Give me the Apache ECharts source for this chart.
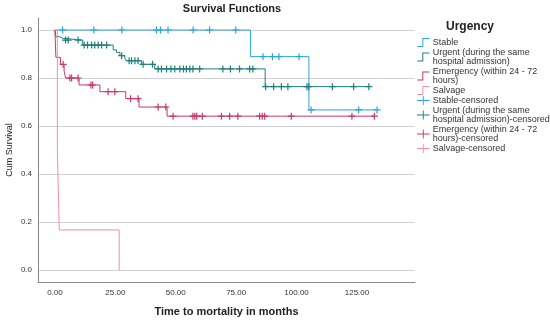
<!DOCTYPE html>
<html><head><meta charset="utf-8">
<script src="https://cdn.jsdelivr.net/npm/echarts@6/dist/echarts.min.js"></script>
<style>html,body{margin:0;padding:0;background:#fff}#c{width:550px;height:320px}</style>
</head><body><div id="c"></div>
<script>
// Kaplan-Meier step data (time in months, cumulative survival)
const stableT = [0, 80.9, 105.1, 133.3];
const stableS = [1, 0.889, 0.667, 0.667];
const stableCens = [3.2, 16.1, 27.7, 42, 43.7, 46.8, 57.2, 64, 74.8, 86.1, 90, 92.7, 101, 106, 125.7, 133.3];

const urgentT = [0, 0.4, 2.0, 3.4, 11.5, 24.1, 25.5, 26.9, 28.9, 29.6, 35.8, 41.3, 87, 130];
const urgentS = [1, 0.972, 0.965, 0.958, 0.937, 0.917, 0.907, 0.893, 0.882, 0.872, 0.857, 0.838, 0.764, 0.764];
const urgentCens = [4.4, 5.5, 9.6, 12.1, 13.5, 15.2, 16.5, 17.9, 19.3, 21.4, 27.6, 30.7, 31.7, 33.1, 34.4, 36.5, 40.4, 42.7, 44.1, 46.2, 48, 49.6, 51.7, 53.2, 54.4, 55.8, 57.1, 59.9, 69.5, 72.6, 76.4, 80.6, 81.9, 87.2, 90.5, 93.7, 96.4, 104.3, 105.1, 114.8, 123.6, 129.9];

const emergT = [0, 0.4, 2.3, 3.8, 4.4, 10, 18.6, 29.3, 34.8, 46.4, 132.2];
const emergS = [1, 0.886, 0.857, 0.829, 0.8, 0.771, 0.743, 0.714, 0.679, 0.641, 0.641];
const emergCens = [3.4, 6.2, 6.9, 9.6, 14.9, 15.6, 22, 24.8, 31.3, 34.4, 42.7, 45.9, 48.9, 57.1, 57.9, 58.7, 61, 68.9, 72.3, 75.7, 84.7, 85.8, 86.8, 97.8, 122.9, 132.2];

const salvT = [0, 1.0, 1.8, 26.6];
const salvS = [1, 0.5, 0.167, 0];
const salvCens = [];

const groupNames = ['Stable', 'Urgent (during the same\nhospital admission)', 'Emergency (within 24 - 72\nhours)', 'Salvage'];
const xTicks = [0, 25, 50, 75, 100, 125];
const yTicks = [0, 0.2, 0.4, 0.6, 0.8, 1.0];

const colors = ['#2aa6d8', '#1f7f7c', '#c9386a', '#f58f9d'];
const groups = [[stableT, stableS, stableCens], [urgentT, urgentS, urgentCens], [emergT, emergS, emergCens], [salvT, salvS, salvCens]];

function survAt(T, S, t) {
  let v = S[0];
  for (let i = 0; i < T.length; i++) { if (T[i] <= t) v = S[i]; }
  return v;
}

const series = [];
const legendData = [];
const stepIcon = 'path://M0,9 L5,9 L5,1 L12,1 L12,2 L6,2 L6,10 L0,10 Z';
const plusIcon = 'path://M0,4.5 H14 V5.5 H0 Z M6.5,0 H7.5 V10 H6.5 Z';
const censSym = 'path://M0,3 H7 V4.2 H0 Z M2.9,0 H4.1 V7.2 H2.9 Z';

// horizontal gridlines from y tick values (drawn first, underneath)
series.push({
  type: 'line', data: [], silent: true, animation: false, z: 0,
  markLine: { symbol: 'none', silent: true, z: 0, zlevel: 0, label: { show: false }, animation: false,
    lineStyle: { color: '#d4d4d4', width: 1, type: 'solid' },
    data: yTicks.map(v => ({ yAxis: v })) }
});
groups.forEach((g, i) => {
  series.push({
    name: groupNames[i], type: 'line', step: 'end', showSymbol: false, symbol: 'none',
    data: g[0].map((t, k) => [t, g[1][k]]),
    lineStyle: { color: colors[i], width: 1 }, itemStyle: { color: colors[i] },
    silent: true, animation: false, z: 6
  });
  legendData.push({ name: groupNames[i], icon: stepIcon, itemStyle: { color: colors[i] } });
});
groups.forEach((g, i) => {
  const nm = groupNames[i] + '-censored';
  series.push({
    name: nm, type: 'scatter', symbol: censSym, symbolSize: [7, 7],
    data: g[2].map(t => [t, survAt(g[0], g[1], t)]),
    itemStyle: { color: colors[i], opacity: 1 }, silent: true, animation: false, z: 7
  });
  legendData.push({ name: nm, icon: plusIcon, itemStyle: { color: colors[i] } });
});

const chart = echarts.init(document.getElementById('c'), null, { renderer: 'canvas' });
chart.setOption({
  backgroundColor: '#fff',
  animation: false,
  textStyle: { fontFamily: 'Liberation Sans, Arial, sans-serif' },
  title: [
    { text: 'Survival Functions', left: 227, top: -2, textAlign: 'center',
      textStyle: { fontSize: 11, fontWeight: 'bold', color: '#222', fontFamily: 'Liberation Sans' } },
    { text: 'Urgency', left: 441, top: 16,
      textStyle: { fontSize: 12, fontWeight: 'bold', color: '#222', fontFamily: 'Liberation Sans' } }
  ],
  graphic: [{
    type: 'text', x: 10, y: 150, rotation: Math.PI / 2, silent: true,
    style: { text: 'Cum Survival', fontSize: 9, fill: '#222', fontFamily: 'Liberation Sans',
      align: 'center', verticalAlign: 'middle' }
  }],
  legend: {
    orient: 'vertical', left: 417, top: 38, itemWidth: 13, itemHeight: 9, itemGap: 1, padding: 0,
    data: legendData, selectedMode: false,
    textStyle: { fontSize: 9, lineHeight: 9, color: '#333', padding: [0, 0, 0, -2], fontFamily: 'Liberation Sans' }
  },
  grid: { left: 38, right: 135, top: 18, bottom: 38, containLabel: false, outerBoundsMode: 'none' },
  xAxis: {
    type: 'value', min: -7, max: 149,
    name: 'Time to mortality in months', nameLocation: 'middle', nameGap: 24,
    nameTextStyle: { fontSize: 11, fontWeight: 'bold', color: '#222', fontFamily: 'Liberation Sans' },
    axisLine: { onZero: false, lineStyle: { color: '#888', width: 1 } },
    axisTick: { show: false },
    splitLine: { show: false },
    axisLabel: { customValues: xTicks, formatter: v => v.toFixed(2), fontSize: 8, color: '#333', margin: 7 }
  },
  yAxis: {
    type: 'value', min: -0.05, max: 1.05,
    axisLine: { show: true, onZero: false, lineStyle: { color: '#888', width: 1 } },
    axisTick: { show: false },
    splitLine: { show: false },
    axisLabel: { customValues: yTicks, formatter: v => v.toFixed(1), fontSize: 8, color: '#333', margin: 6 }
  },
  series: series
});
</script></body></html>
